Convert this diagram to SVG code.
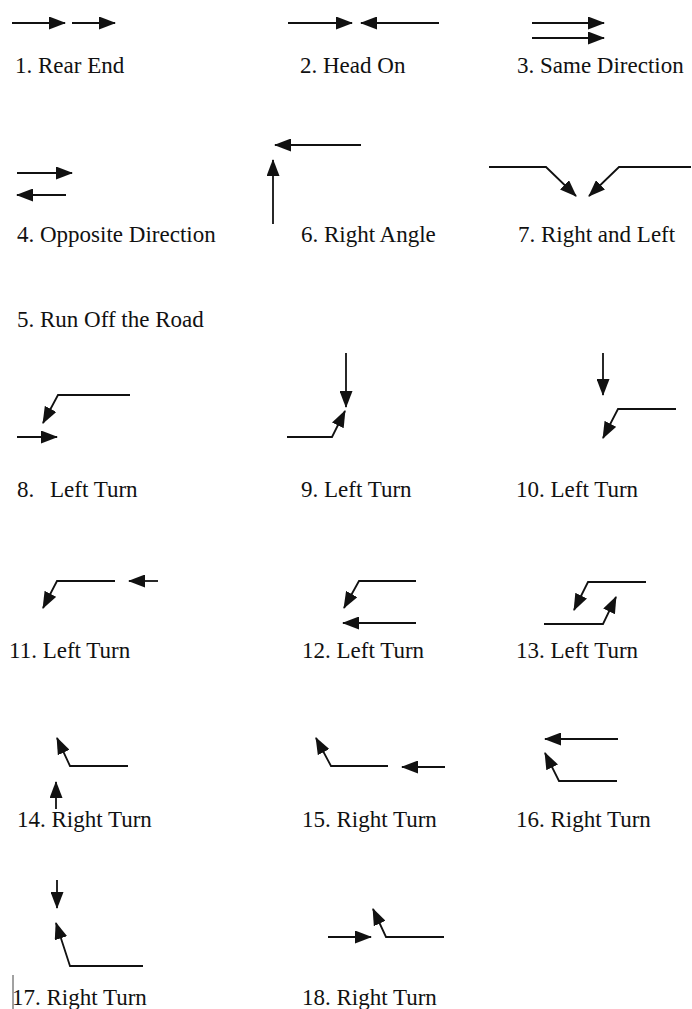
<svg xmlns="http://www.w3.org/2000/svg" width="692" height="1009" viewBox="0 0 692 1009">
<style>
text{font-family:"Liberation Serif","Times New Roman",serif;font-size:23px;fill:#111}
.a{fill:none;stroke:#111;stroke-width:1.8;marker-end:url(#ah)}
</style>
<defs>
<marker id="ah" markerUnits="userSpaceOnUse" markerWidth="17" markerHeight="13" viewBox="0 0 17 13" refX="16" refY="6.5" orient="auto"><path d="M0,0 L17,6.5 L0,13 z" fill="#111"/></marker>
</defs>
<rect width="692" height="1009" fill="#fff"/>
<g id="c1"><path class="a" d="M12,23 L65,23"/><path class="a" d="M72,23 L115,23"/><text x="15" y="73">1. Rear End</text></g>
<g id="c2"><path class="a" d="M288,23 L352,23"/><path class="a" d="M439,23 L361,23"/><text x="300" y="73">2. Head On</text></g>
<g id="c3"><path class="a" d="M532,23 L604,23"/><path class="a" d="M532,38 L604,38"/><text x="517" y="73">3. Same Direction</text></g>
<g id="c4"><path class="a" d="M17,173 L72,173"/><path class="a" d="M66,195 L17,195"/><text x="17" y="242">4. Opposite Direction</text></g>
<g id="c6"><path class="a" d="M273,224 L273,160"/><path class="a" d="M361,145 L275,145"/><text x="301" y="242">6. Right Angle</text></g>
<g id="c7"><path class="a" d="M489,167 L546,167 L576,196"/><path class="a" d="M691,167 L619,167 L589,196"/><text x="518" y="242">7. Right and Left</text></g>
<g id="c5"><text x="17" y="327">5. Run Off the Road</text></g>
<g id="c8"><path class="a" d="M130,395 L58,395 L43,423"/><path class="a" d="M17,437 L57,437"/><text x="17" y="497">8.<tspan x="50">Left Turn</tspan></text></g>
<g id="c9"><path class="a" d="M346,353 L346,407"/><path class="a" d="M287,437 L332,437 L345,411"/><text x="301" y="497">9. Left Turn</text></g>
<g id="c10"><path class="a" d="M603,353 L603,395"/><path class="a" d="M676,409 L618,409 L603,438"/><text x="516" y="497">10. Left Turn</text></g>
<g id="c11"><path class="a" d="M115,581 L57,581 L43,608"/><path class="a" d="M158,581 L129,581"/><text x="9" y="658">11. Left Turn</text></g>
<g id="c12"><path class="a" d="M416,581 L359,581 L344,608"/><path class="a" d="M416,623 L343,623"/><text x="302" y="658">12. Left Turn</text></g>
<g id="c13"><path class="a" d="M646,582 L588,582 L574,610"/><path class="a" d="M544,624 L603,624 L616,597"/><text x="516" y="658">13. Left Turn</text></g>
<g id="c14"><path class="a" d="M128,766 L70,766 L57,738"/><path class="a" d="M56,809 L56,782"/><text x="17" y="827">14. Right Turn</text></g>
<g id="c15"><path class="a" d="M388,766 L331,766 L316,738"/><path class="a" d="M445,767 L402,767"/><text x="302" y="827">15. Right Turn</text></g>
<g id="c16"><path class="a" d="M618,739 L545,739"/><path class="a" d="M617,781 L559,781 L545,753"/><text x="516" y="827">16. Right Turn</text></g>
<g id="c17"><path class="a" d="M57,880 L57,908"/><path class="a" d="M143,966 L70,966 L56,923"/><line x1="13" y1="975" x2="13" y2="1009" stroke="#444" stroke-width="1"/><text x="12" y="1005">17. Right Turn</text></g>
<g id="c18"><path class="a" d="M328,937 L371,937"/><path class="a" d="M444,937 L386,937 L373,909"/><text x="302" y="1005">18. Right Turn</text></g>
</svg>
